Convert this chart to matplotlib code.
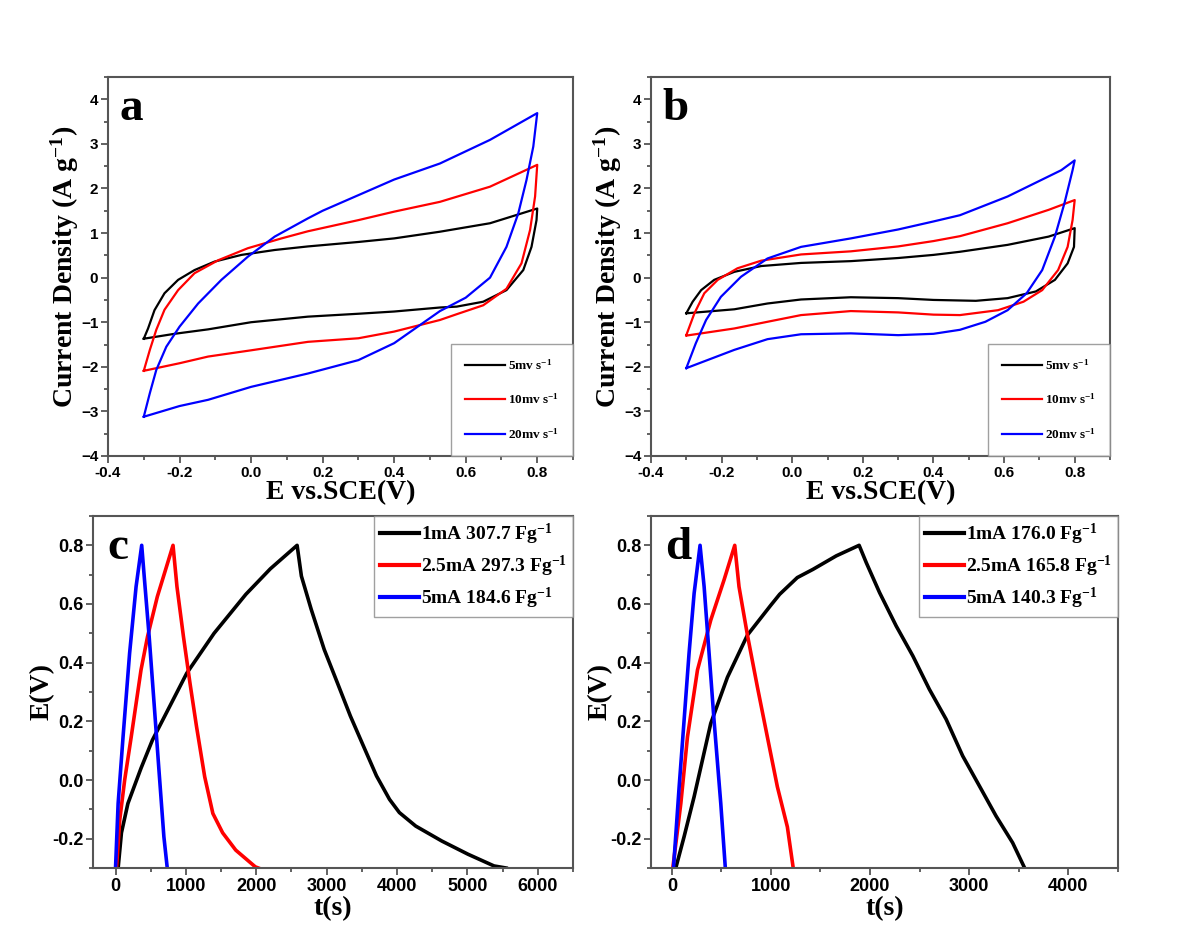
import matplotlib
matplotlib.use('Agg')
import matplotlib.pyplot as plt
from matplotlib.ticker import MultipleLocator

plt.rcParams['font.family'] = 'Liberation Serif'
plt.rcParams['mathtext.fontset'] = 'custom'
plt.rcParams['mathtext.rm'] = 'Liberation Serif:bold'
plt.rcParams['mathtext.it'] = 'Liberation Serif:bold'
plt.rcParams['mathtext.bf'] = 'Liberation Serif:bold'

# ---- CV data, panel a (forward branch -0.3 -> 0.8, then reverse back) ----
a_5_E = [-0.3, -0.288, -0.27, -0.242, -0.204, -0.158, -0.102, -0.027, 0.066, 0.159, 0.3, 0.4, 0.528, 0.668, 0.8,
         0.798, 0.784, 0.761, 0.714, 0.649, 0.575, 0.528, 0.4, 0.3, 0.159, 0.0, -0.12, -0.214, -0.3]
a_5_I = [-1.37, -1.14, -0.73, -0.35, -0.05, 0.17, 0.36, 0.51, 0.62, 0.70, 0.80, 0.88, 1.03, 1.22, 1.55,
         1.29, 0.69, 0.17, -0.28, -0.54, -0.65, -0.67, -0.76, -0.81, -0.875, -1.0, -1.16, -1.26, -1.37]

a_10_E = [-0.3, -0.283, -0.265, -0.242, -0.204, -0.158, -0.092, -0.009, 0.085, 0.159, 0.3, 0.4, 0.528, 0.668, 0.8,
          0.794, 0.78, 0.756, 0.714, 0.649, 0.575, 0.528, 0.4, 0.3, 0.159, 0.0, -0.12, -0.2, -0.3]
a_10_I = [-2.09, -1.62, -1.17, -0.72, -0.28, 0.10, 0.39, 0.66, 0.88, 1.04, 1.29, 1.48, 1.70, 2.04, 2.53,
          1.82, 1.07, 0.32, -0.25, -0.62, -0.82, -0.95, -1.21, -1.36, -1.44, -1.63, -1.77, -1.92, -2.09]

a_20_E = [-0.3, -0.283, -0.265, -0.237, -0.2, -0.148, -0.083, -0.009, 0.066, 0.159, 0.2, 0.3, 0.4, 0.528, 0.668, 0.8,
          0.789, 0.77, 0.747, 0.714, 0.668, 0.6, 0.528, 0.4, 0.3, 0.159, 0.0, -0.12, -0.2, -0.3]
a_20_I = [-3.12, -2.59, -2.07, -1.55, -1.1, -0.58, -0.05, 0.47, 0.92, 1.33, 1.5, 1.85, 2.2, 2.56, 3.09, 3.69,
          2.94, 2.19, 1.44, 0.69, 0.0, -0.45, -0.75, -1.47, -1.85, -2.15, -2.45, -2.74, -2.88, -3.12]

# ---- CV data, panel b ----
b_5_E = [-0.3, -0.282, -0.258, -0.221, -0.164, -0.088, 0.025, 0.166, 0.3, 0.4, 0.475, 0.61, 0.726, 0.8,
         0.798, 0.78, 0.744, 0.69, 0.61, 0.52, 0.4, 0.3, 0.166, 0.025, -0.07, -0.164, -0.3]
b_5_I = [-0.80, -0.54, -0.28, -0.05, 0.13, 0.26, 0.33, 0.37, 0.44, 0.51, 0.58, 0.735, 0.92, 1.11,
         0.69, 0.32, -0.05, -0.31, -0.46, -0.52, -0.50, -0.46, -0.44, -0.49, -0.58, -0.71, -0.80]

b_10_E = [-0.3, -0.277, -0.249, -0.211, -0.155, -0.088, 0.025, 0.166, 0.3, 0.4, 0.475, 0.61, 0.726, 0.8,
          0.794, 0.78, 0.753, 0.708, 0.655, 0.583, 0.475, 0.4, 0.3, 0.166, 0.025, -0.07, -0.164, -0.3]
b_10_I = [-1.29, -0.80, -0.35, -0.05, 0.21, 0.38, 0.52, 0.59, 0.70, 0.82, 0.93, 1.22, 1.52, 1.74,
          1.29, 0.69, 0.17, -0.28, -0.54, -0.73, -0.84, -0.83, -0.78, -0.75, -0.84, -0.99, -1.14, -1.30]

b_20_E = [-0.3, -0.273, -0.244, -0.202, -0.145, -0.07, 0.025, 0.166, 0.3, 0.4, 0.475, 0.61, 0.762, 0.8,
          0.794, 0.771, 0.744, 0.708, 0.664, 0.61, 0.547, 0.475, 0.4, 0.3, 0.166, 0.025, -0.07, -0.164, -0.3]
b_20_I = [-2.03, -1.47, -0.95, -0.43, 0.02, 0.43, 0.69, 0.88, 1.08, 1.26, 1.40, 1.82, 2.41, 2.63,
          2.41, 1.67, 0.92, 0.17, -0.35, -0.73, -0.99, -1.17, -1.26, -1.29, -1.25, -1.27, -1.38, -1.62, -2.03]

cv_labels = ['5mv s$^{-1}$', '10mv s$^{-1}$', '20mv s$^{-1}$']

# ---- GCD data, panel c ----
c_1_t = [37, 84, 176, 362, 524, 1012, 1400, 1852, 2200, 2580,
         2641, 2780, 2965, 3151, 3337, 3522, 3708, 3893, 4033, 4265, 4636, 5008, 5378, 5550]
c_1_E = [-0.3, -0.18, -0.08, 0.04, 0.136, 0.364, 0.50, 0.633, 0.72, 0.8,
         0.695, 0.582, 0.445, 0.332, 0.218, 0.116, 0.014, -0.066, -0.111, -0.157, -0.208, -0.253, -0.293, -0.3]
c_25_t = [14, 60, 130, 223, 362, 455, 594, 817,
          873, 965, 1058, 1151, 1267, 1383, 1522, 1708, 1986, 2030]
c_25_E = [-0.3, -0.136, 0.0, 0.147, 0.375, 0.489, 0.625, 0.8,
          0.659, 0.489, 0.33, 0.182, 0.011, -0.114, -0.18, -0.239, -0.296, -0.3]
c_5_t = [0, 37, 107, 200, 292, 372, 408, 478, 548, 617, 687, 735]
c_5_E = [-0.3, -0.08, 0.147, 0.432, 0.659, 0.8, 0.693, 0.489, 0.261, 0.034, -0.193, -0.3]
c_labels = ['1mA 307.7 Fg$^{-1}$', '2.5mA 297.3 Fg$^{-1}$', '5mA 184.6 Fg$^{-1}$']

# ---- GCD data, panel d ----
d_1_t = [40, 124, 225, 393, 561, 763, 997, 1088, 1266, 1424, 1659, 1890,
         1962, 2096, 2264, 2432, 2599, 2768, 2935, 3103, 3272, 3439, 3560]
d_1_E = [-0.3, -0.193, -0.057, 0.193, 0.35, 0.494, 0.595, 0.633, 0.69, 0.718, 0.764, 0.8,
         0.741, 0.639, 0.525, 0.423, 0.309, 0.207, 0.082, -0.02, -0.123, -0.214, -0.3]
d_25_t = [10, 91, 158, 259, 393, 527, 635, 678, 763, 863, 964, 1065, 1166, 1225]
d_25_E = [-0.3, -0.08, 0.147, 0.375, 0.545, 0.682, 0.8, 0.659, 0.494, 0.318, 0.147, -0.023, -0.16, -0.3]
d_5_t = [17, 74, 124, 174, 225, 285, 326, 376, 426, 494, 540]
d_5_E = [-0.3, -0.023, 0.204, 0.432, 0.636, 0.8, 0.659, 0.432, 0.204, -0.08, -0.3]
d_labels = ['1mA 176.0 Fg$^{-1}$', '2.5mA 165.8 Fg$^{-1}$', '5mA 140.3 Fg$^{-1}$']

colors = ['black', '#ff0000', '#0000ff']
frame = '#555555'

fig = plt.figure(figsize=(12, 9.39), dpi=100)
ax_a = fig.add_axes([0.09, 0.5144, 0.3875, 0.4036])
ax_b = fig.add_axes([0.5425, 0.5144, 0.3825, 0.4036])
ax_c = fig.add_axes([0.0775, 0.0756, 0.40, 0.3749])
ax_d = fig.add_axes([0.5425, 0.0756, 0.389, 0.3749])


def style(ax, fs):
    for s in ax.spines.values():
        s.set_color(frame)
        s.set_linewidth(1.5)
    ax.tick_params(which='both', direction='out', top=False, right=False, color=frame, width=1.3, pad=2)
    ax.tick_params(which='major', length=5)
    ax.tick_params(which='minor', length=3)
    for lab in ax.get_xticklabels() + ax.get_yticklabels():
        lab.set_fontfamily('Liberation Sans')
        lab.set_fontweight('bold')
        lab.set_fontsize(fs)


# CV panels
for ax, data, letter in [
    (ax_a, [(a_5_E, a_5_I), (a_10_E, a_10_I), (a_20_E, a_20_I)], 'a'),
    (ax_b, [(b_5_E, b_5_I), (b_10_E, b_10_I), (b_20_E, b_20_I)], 'b'),
]:
    for (x, y), c, lab in zip(data, colors, cv_labels):
        ax.plot(x, y, color=c, lw=1.6, label=lab)
    ax.set_xlim(-0.4, 0.9)
    ax.set_ylim(-4, 4.5)
    ax.set_xticks([-0.4, -0.2, 0.0, 0.2, 0.4, 0.6, 0.8])
    ax.xaxis.set_minor_locator(MultipleLocator(0.1))
    ax.set_yticks(range(-4, 5))
    ax.yaxis.set_minor_locator(MultipleLocator(0.5))
    ax.set_xticklabels(['-0.4', '-0.2', '0.0', '0.2', '0.4', '0.6', '0.8'])
    ax.set_xlabel('E vs.SCE(V)', fontsize=20, fontweight='bold', labelpad=0)
    ax.set_ylabel('Current Density (A g$^{-1}$)', fontsize=20, fontweight='bold', labelpad=0)
    ax.text(0.025, 0.97, letter, transform=ax.transAxes, fontsize=34, fontweight='bold', va='top')
    leg = ax.legend(loc='lower right', borderaxespad=0, fancybox=False, prop={'weight': 'bold', 'size': 9.5},
                    handlelength=3.0, labelspacing=1.5, borderpad=1.1, handletextpad=0.2)
    leg.get_frame().set_edgecolor('#888888')
    leg.get_frame().set_linewidth(1.0)
    style(ax, 11)

# GCD panels
for ax, data, labels, letter, xmin, xmax, xt in [
    (ax_c, [(c_1_t, c_1_E), (c_25_t, c_25_E), (c_5_t, c_5_E)], c_labels, 'c', -320, 6500, range(0, 6001, 1000)),
    (ax_d, [(d_1_t, d_1_E), (d_25_t, d_25_E), (d_5_t, d_5_E)], d_labels, 'd', -210, 4500, range(0, 4001, 1000)),
]:
    for (x, y), c, lab in zip(data, colors, labels):
        ax.plot(x, y, color=c, lw=2.6, label=lab)
    ax.set_xlim(xmin, xmax)
    ax.set_ylim(-0.3, 0.9)
    ax.set_xticks(list(xt))
    ax.xaxis.set_minor_locator(MultipleLocator(500))
    ax.set_yticks([-0.2, 0.0, 0.2, 0.4, 0.6, 0.8])
    ax.set_yticklabels(['-0.2', '0.0', '0.2', '0.4', '0.6', '0.8'])
    ax.yaxis.set_minor_locator(MultipleLocator(0.1))
    ax.set_xlabel('t(s)', fontsize=20, fontweight='bold', labelpad=1)
    ax.set_ylabel('E(V)', fontsize=20, fontweight='bold', labelpad=-2)
    ax.text(0.03, 0.97, letter, transform=ax.transAxes, fontsize=34, fontweight='bold', va='top')
    leg = ax.legend(loc='upper right', borderaxespad=0, fancybox=False, prop={'weight': 'bold', 'size': 14},
                    handlelength=2.0, labelspacing=0.35, borderpad=0.3, handletextpad=0.1)
    leg.get_frame().set_edgecolor('#888888')
    leg.get_frame().set_linewidth(1.0)
    for ln in leg.get_lines():
        ln.set_linewidth(3)
    style(ax, 13)

fig.savefig('out.png', dpi=100)
